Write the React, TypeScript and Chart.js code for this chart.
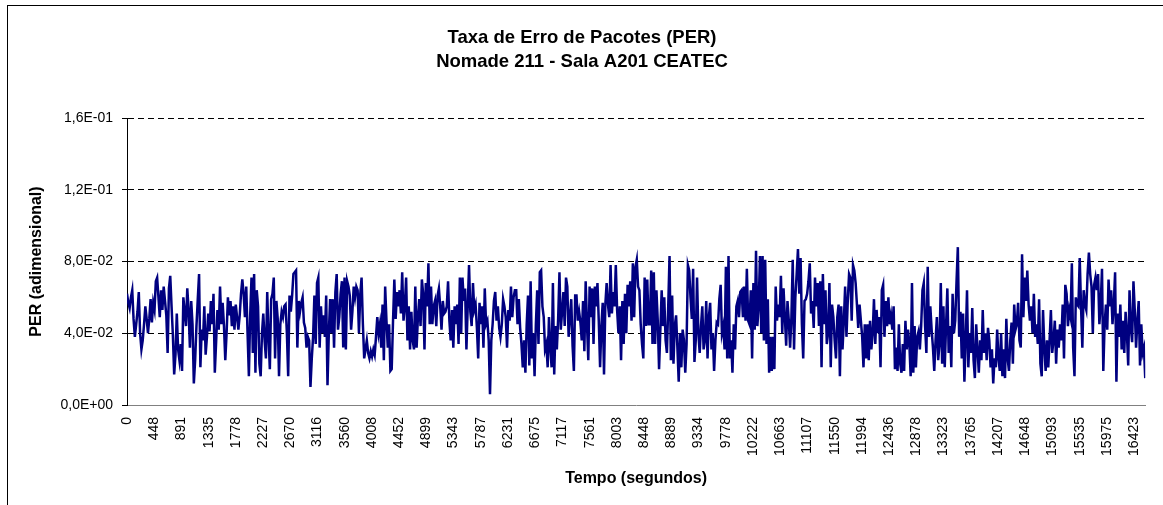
import React, { useEffect, useRef } from 'react';
import { Chart, registerables } from 'chart.js';

Chart.register(...registerables);

const FONT = "'Liberation Sans', Arial, Helvetica, sans-serif";

const chartTitle = ['Taxa de Erro de Pacotes (PER)', 'Nomade 211 - Sala A201 CEATEC'];
const xAxisTitle = 'Tempo (segundos)';
const yAxisTitle = 'PER (adimensional)';

const xTickLabels = [
  '0', '448', '891', '1335', '1778', '2227', '2670', '3116', '3560', '4008',
  '4452', '4899', '5343', '5787', '6231', '6675', '7117', '7561', '8003', '8448',
  '8889', '9334', '9778', '10222', '10663', '11107', '11550', '11994', '12436', '12878',
  '13323', '13765', '14207', '14648', '15093', '15535', '15975', '16423',
];

const yTickValues = [0, 0.04, 0.08, 0.12, 0.16];
const yTickLabels = ['0,0E+00', '4,0E-02', '8,0E-02', '1,2E-01', '1,6E-01'];

// samples between two labelled categories on the x axis
const samplesPerLabel = 20.77;

const perPart1 = [
  0.062, 0.057, 0.054, 0.060, 0.064, 0.048, 0.038, 0.045, 0.052, 0.063,
  0.040, 0.031, 0.036, 0.045, 0.055, 0.048, 0.040, 0.048, 0.059, 0.046,
  0.057, 0.053, 0.069, 0.071, 0.060, 0.049, 0.064, 0.053, 0.066, 0.058,
  0.050, 0.029, 0.065, 0.072, 0.055, 0.039, 0.017, 0.028, 0.051, 0.031,
  0.025, 0.034, 0.019, 0.060, 0.052, 0.044, 0.065, 0.053, 0.032, 0.058,
  0.045, 0.012, 0.025, 0.044, 0.059, 0.073, 0.021, 0.042, 0.036, 0.055,
  0.028, 0.038, 0.051, 0.041, 0.058, 0.045, 0.062, 0.018, 0.035, 0.053,
  0.042, 0.066, 0.045, 0.057, 0.044, 0.025, 0.040, 0.060, 0.050, 0.058,
  0.044, 0.055, 0.042, 0.056, 0.049, 0.042, 0.050, 0.062, 0.070, 0.062,
  0.049, 0.066, 0.040, 0.016, 0.050, 0.071, 0.029,
];

const perPart2 = [
  0.073, 0.018, 0.064, 0.055, 0.023, 0.016, 0.040, 0.051, 0.036, 0.026,
  0.063, 0.038, 0.020, 0.059, 0.062, 0.071, 0.026, 0.058, 0.048, 0.016,
  0.045, 0.052, 0.049, 0.055, 0.056, 0.040, 0.016, 0.061, 0.052, 0.061,
  0.073, 0.074, 0.075, 0.032, 0.058, 0.052, 0.057, 0.060, 0.046, 0.043,
  0.032, 0.038, 0.036, 0.010, 0.026, 0.038, 0.061, 0.034, 0.068, 0.071,
  0.032, 0.055, 0.040, 0.050, 0.038, 0.061, 0.011, 0.040, 0.059, 0.040,
  0.059, 0.032, 0.063, 0.073, 0.042, 0.049, 0.062, 0.069, 0.032, 0.071,
  0.031, 0.069, 0.066, 0.061, 0.042, 0.052, 0.066, 0.060, 0.066, 0.064,
  0.040, 0.062, 0.071, 0.045, 0.026, 0.031, 0.036, 0.029, 0.026, 0.030,
  0.027, 0.031, 0.028, 0.038, 0.049, 0.040, 0.045,
];

const perPart3 = [
  0.032, 0.056, 0.025, 0.066, 0.047, 0.032, 0.045, 0.019, 0.020, 0.047,
  0.070, 0.048, 0.063, 0.055, 0.064, 0.051, 0.074, 0.047, 0.055, 0.071,
  0.036, 0.055, 0.031, 0.052, 0.036, 0.031, 0.066, 0.032, 0.049, 0.059,
  0.044, 0.070, 0.062, 0.031, 0.068, 0.055, 0.079, 0.045, 0.066, 0.045,
  0.055, 0.058, 0.044, 0.061, 0.065, 0.055, 0.042, 0.058, 0.051, 0.052,
  0.055, 0.069, 0.047, 0.036, 0.053, 0.032, 0.055, 0.045, 0.056, 0.034,
  0.071, 0.040, 0.071, 0.058, 0.065, 0.031, 0.055, 0.078, 0.052, 0.044,
  0.068, 0.053, 0.056, 0.043, 0.026, 0.057, 0.045, 0.055, 0.032, 0.065,
  0.045, 0.047, 0.036, 0.006, 0.036, 0.045, 0.058, 0.063, 0.047, 0.055,
  0.043, 0.038, 0.045, 0.059, 0.055, 0.049, 0.032,
];

const perPart4 = [
  0.053, 0.047, 0.066, 0.049, 0.060, 0.064, 0.064, 0.045, 0.059, 0.043,
  0.034, 0.021, 0.036, 0.018, 0.045, 0.061, 0.022, 0.069, 0.026, 0.040,
  0.016, 0.045, 0.064, 0.034, 0.074, 0.075, 0.055, 0.049, 0.031, 0.034,
  0.021, 0.049, 0.032, 0.021, 0.068, 0.017, 0.044, 0.031, 0.048, 0.074,
  0.042, 0.052, 0.063, 0.044, 0.071, 0.066, 0.038, 0.049, 0.059, 0.033,
  0.019, 0.061, 0.061, 0.047, 0.052, 0.046, 0.036, 0.058, 0.030, 0.069,
  0.045, 0.025, 0.066, 0.049, 0.065, 0.034, 0.066, 0.055, 0.068, 0.047,
  0.021, 0.044, 0.057, 0.017, 0.056, 0.068, 0.056, 0.049, 0.078, 0.051,
  0.063, 0.055, 0.078, 0.053, 0.040, 0.055, 0.025, 0.058, 0.034, 0.062,
  0.040, 0.067, 0.055, 0.069, 0.047, 0.079, 0.049,
];

const perPart5 = [
  0.077, 0.081, 0.066, 0.064, 0.045, 0.034, 0.026, 0.071, 0.044, 0.070,
  0.045, 0.045, 0.075, 0.034, 0.074, 0.034, 0.064, 0.047, 0.020, 0.042,
  0.064, 0.044, 0.060, 0.036, 0.029, 0.055, 0.083, 0.025, 0.061, 0.023,
  0.044, 0.050, 0.032, 0.013, 0.040, 0.021, 0.042, 0.036, 0.018, 0.034,
  0.078, 0.075, 0.060, 0.048, 0.076, 0.024, 0.036, 0.071, 0.040, 0.029,
  0.044, 0.055, 0.031, 0.036, 0.058, 0.026, 0.049, 0.057, 0.031, 0.040,
  0.019, 0.036, 0.046, 0.045, 0.059, 0.067, 0.040, 0.044, 0.031, 0.077,
  0.026, 0.083, 0.026, 0.036, 0.018, 0.045, 0.031, 0.055, 0.058, 0.049,
  0.063, 0.064, 0.049, 0.066, 0.047, 0.076, 0.047, 0.045, 0.064, 0.026,
  0.068, 0.042, 0.086, 0.044, 0.055, 0.083, 0.040,
];

const perPart6 = [
  0.083, 0.036, 0.081, 0.034, 0.059, 0.018, 0.038, 0.019, 0.038, 0.020,
  0.066, 0.047, 0.056, 0.049, 0.072, 0.040, 0.065, 0.049, 0.033, 0.058,
  0.047, 0.032, 0.049, 0.081, 0.031, 0.060, 0.073, 0.087, 0.062, 0.082,
  0.045, 0.026, 0.058, 0.059, 0.062, 0.069, 0.079, 0.051, 0.058, 0.043,
  0.071, 0.055, 0.068, 0.044, 0.069, 0.021, 0.073, 0.045, 0.064, 0.034,
  0.040, 0.068, 0.021, 0.056, 0.049, 0.036, 0.026, 0.049, 0.056, 0.016,
  0.055, 0.031, 0.047, 0.066, 0.038, 0.058, 0.073, 0.071, 0.047, 0.078,
  0.075, 0.068, 0.056, 0.043, 0.056, 0.047, 0.038, 0.021, 0.045, 0.026,
  0.045, 0.025, 0.047, 0.031, 0.040, 0.059, 0.034, 0.053, 0.040, 0.049,
  0.021, 0.064, 0.067, 0.038, 0.058, 0.044, 0.060,
];

const perPart7 = [
  0.045, 0.050, 0.042, 0.055, 0.020, 0.032, 0.019, 0.045, 0.023, 0.018,
  0.034, 0.019, 0.047, 0.031, 0.042, 0.034, 0.016, 0.068, 0.018, 0.044,
  0.021, 0.038, 0.041, 0.031, 0.044, 0.064, 0.068, 0.044, 0.029, 0.077,
  0.038, 0.055, 0.042, 0.032, 0.019, 0.036, 0.049, 0.025, 0.034, 0.068,
  0.023, 0.055, 0.021, 0.044, 0.065, 0.029, 0.044, 0.021, 0.062, 0.040,
  0.047, 0.069, 0.088, 0.038, 0.052, 0.026, 0.051, 0.013, 0.036, 0.064,
  0.021, 0.040, 0.029, 0.054, 0.025, 0.015, 0.045, 0.031, 0.018, 0.036,
  0.025, 0.053, 0.029, 0.040, 0.025, 0.043, 0.036, 0.021, 0.031, 0.012,
  0.026, 0.021, 0.042, 0.026, 0.019, 0.040, 0.016, 0.031, 0.015, 0.048,
  0.026, 0.019, 0.036, 0.046, 0.023, 0.056, 0.042,
];

const perPart8 = [
  0.045, 0.057, 0.036, 0.032, 0.084, 0.049, 0.071, 0.058, 0.075, 0.056,
  0.047, 0.055, 0.040, 0.062, 0.038, 0.045, 0.034, 0.059, 0.023, 0.016,
  0.053, 0.032, 0.019, 0.036, 0.021, 0.036, 0.053, 0.029, 0.036, 0.047,
  0.023, 0.042, 0.032, 0.045, 0.036, 0.056, 0.026, 0.067, 0.062, 0.044,
  0.053, 0.049, 0.079, 0.032, 0.016, 0.060, 0.056, 0.055, 0.082, 0.055,
  0.032, 0.064, 0.056, 0.053, 0.073, 0.085, 0.073, 0.066, 0.040, 0.067,
  0.071, 0.064, 0.073, 0.045, 0.056, 0.076, 0.019, 0.045, 0.056, 0.042,
  0.070, 0.055, 0.064, 0.045, 0.056, 0.074, 0.013, 0.051, 0.038, 0.056,
  0.031, 0.047, 0.029, 0.052, 0.040, 0.022, 0.064, 0.043, 0.035, 0.069,
  0.053, 0.032, 0.047, 0.058, 0.022, 0.045, 0.029, 0.032, 0.015,
];

const perValues = [
  ...perPart1, ...perPart2, ...perPart3, ...perPart4,
  ...perPart5, ...perPart6, ...perPart7, ...perPart8,
];

const framePlugin = {
  id: 'frame',
  beforeDraw(chart: any) {
    const ctx = chart.ctx;
    ctx.save();
    ctx.fillStyle = '#ffffff';
    ctx.fillRect(0, 0, chart.width, chart.height);
    ctx.restore();
  },
  afterDraw(chart: any) {
    const ctx = chart.ctx;
    ctx.save();
    ctx.strokeStyle = '#000000';
    ctx.lineWidth = 1;
    ctx.strokeRect(7.5, 5.5, chart.width + 20, chart.height + 20);
    ctx.restore();
  },
};

export default function App() {
  const canvasRef = useRef<HTMLCanvasElement | null>(null);

  useEffect(() => {
    if (!canvasRef.current) return;
    const chart = new Chart(canvasRef.current, {
      type: 'line',
      data: {
        datasets: [
          {
            label: 'PER',
            data: perValues.map((v, i) => ({ x: i, y: v })),
            borderColor: '#000080',
            borderWidth: 2.5,
            pointRadius: 0,
            pointHoverRadius: 0,
            tension: 0,
            fill: false,
          },
        ],
      },
      options: {
        responsive: false,
        animation: false,
        events: [],
        layout: { padding: { top: 6, right: 10, bottom: 0, left: 11 } },
        plugins: {
          legend: { display: false },
          tooltip: { enabled: false },
          title: {
            display: true,
            text: chartTitle,
            color: '#000000',
            font: { family: FONT, size: 18.5, weight: 'bold', lineHeight: 1.3 },
            padding: { top: 20, bottom: 43.9 },
          },
        },
        scales: {
          x: {
            type: 'linear',
            min: 0,
            max: perValues.length - 1,
            afterBuildTicks: (scale: any) => {
              scale.ticks = xTickLabels.map((_, j) => ({ value: j * samplesPerLabel }));
            },
            afterFit: (scale: any) => {
              scale.height = 100;
            },
            ticks: {
              autoSkip: false,
              maxRotation: 90,
              minRotation: 90,
              padding: 12,
              color: '#000000',
              font: { family: FONT, size: 14 },
              callback: (_v: any, i: number) => xTickLabels[i],
            },
            grid: { display: false, drawTicks: false },
            border: { display: true, color: '#808080', width: 1 },
            title: {
              display: true,
              text: xAxisTitle,
              color: '#000000',
              font: { family: FONT, size: 16, weight: 'bold' },
              padding: { top: 0, bottom: 17 },
            },
          },
          y: {
            type: 'linear',
            min: 0,
            max: 0.16,
            afterBuildTicks: (scale: any) => {
              scale.ticks = yTickValues.map((v) => ({ value: v }));
            },
            afterFit: (scale: any) => {
              scale.width = 116;
            },
            ticks: {
              color: '#000000',
              padding: 9,
              font: { family: FONT, size: 14 },
              callback: (_v: any, i: number) => yTickLabels[i],
            },
            grid: {
              color: (ctx: any) => (ctx.tick && ctx.tick.value === 0 ? 'rgba(0,0,0,0)' : '#000000'),
              lineWidth: 1,
              drawTicks: true,
              tickLength: 5,
              tickColor: '#000000',
              tickBorderDash: [],
            },
            border: { display: true, color: '#000000', width: 1, dash: [6, 4] },
            title: {
              display: true,
              text: yAxisTitle,
              color: '#000000',
              font: { family: FONT, size: 16, weight: 'bold' },
              padding: { top: 16, bottom: 0 },
            },
          },
        },
      },
      plugins: [framePlugin],
    } as any);
    return () => chart.destroy();
  }, []);

  return (
    <div style={{ position: 'absolute', left: 0, top: 0, width: 1163, height: 505 }}>
      <canvas ref={canvasRef} width={1163} height={505} style={{ display: 'block' }} />
    </div>
  );
}
